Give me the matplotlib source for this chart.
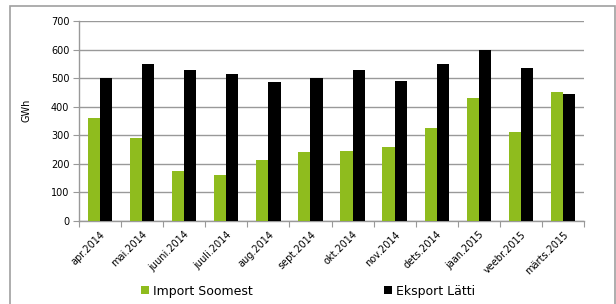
import matplotlib
matplotlib.use("Agg")
import matplotlib.pyplot as plt
import numpy as np
from matplotlib.patches import Rectangle

months = ["apr.2014", "mai.2014", "juuni.2014", "juuli.2014", "aug.2014", "sept.2014",
          "okt.2014", "nov.2014", "dets.2014", "jaan.2015", "veebr.2015", "märts.2015"]
import_soomest = [360, 290, 175, 160, 215, 240, 245, 260, 325, 430, 310, 450]
eksport_latti = [500, 550, 530, 515, 485, 500, 530, 490, 550, 600, 535, 445]
yticks = [0, 100, 200, 300, 400, 500, 600, 700]

green = "#8FBC1E"
grid_c = "#999999"

fig = plt.figure(figsize=(6.16, 3.04), dpi=100)
fig.patch.set_facecolor("white")
fig.patches.append(Rectangle((10/616, -0.05), 605/616, (304-6)/304 + 0.05,
                             transform=fig.transFigure, fill=False,
                             edgecolor="#A0A0A0", linewidth=1.2))

ax = fig.add_axes([79/616, 1-221/304, (584-79)/616, 200/304])
x = np.arange(len(months))
w = 0.29
ax.bar(x - w/2, import_soomest, w, color=green, label="Import Soomest", zorder=3)
ax.bar(x + w/2, eksport_latti, w, color="black", label="Eksport Lätti", zorder=3)

ax.set_xlim(-0.5, len(months) - 0.5)
ax.set_ylim(0, 700)
ax.set_yticks(yticks)
ax.set_yticklabels([str(v) for v in yticks], fontsize=7)
ax.yaxis.grid(True, color=grid_c, linewidth=1.0, zorder=0)
ax.set_axisbelow(True)
for s in ["top", "right"]:
    ax.spines[s].set_visible(False)
ax.spines["left"].set_color(grid_c)
ax.spines["bottom"].set_color(grid_c)
ax.spines["left"].set_linewidth(1.0)
ax.spines["bottom"].set_linewidth(1.0)
ax.tick_params(axis="y", length=4, color=grid_c, pad=3)

ax.set_xticks(np.arange(-0.5, len(months), 1.0))
ax.set_xticklabels([])
ax.set_xticks(x, minor=True)
ax.set_xticklabels(months, minor=True, rotation=45, ha="right", rotation_mode="anchor", fontsize=7)
ax.tick_params(axis="x", which="major", length=4, color=grid_c)
ax.tick_params(axis="x", which="minor", length=0, pad=6)

fig.text(27/616, 1-110/304, "GWh", rotation=90, ha="center", va="center", fontsize=7)

fig.legend(loc="center left", bbox_to_anchor=(141/616, 1-291/304), ncol=2, frameon=False,
           fontsize=9, handlelength=0.65, handleheight=0.65, handletextpad=0.3,
           columnspacing=10.5, borderaxespad=0, borderpad=0)

fig.savefig("out.png", dpi=100)
